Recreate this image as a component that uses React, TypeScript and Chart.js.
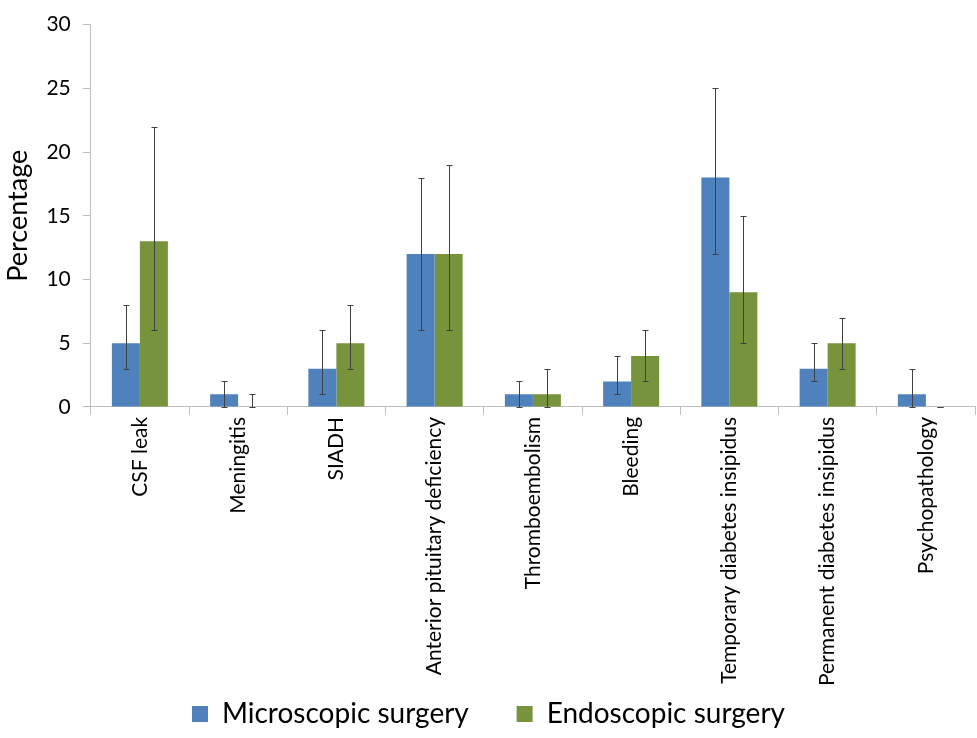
import React, { useEffect, useRef } from "react";
import { Chart, registerables } from "chart.js";

Chart.register(...registerables);

const categories = [
  "CSF leak",
  "Meningitis",
  "SIADH",
  "Anterior pituitary deficiency",
  "Thromboembolism",
  "Bleeding",
  "Temporary diabetes insipidus",
  "Permanent diabetes insipidus",
  "Psychopathology",
];

const microValues = [5, 1, 3, 12, 1, 2, 18, 3, 1];
const microLow = [3, 0, 1, 6, 0, 1, 12, 2, 0];
const microHigh = [8, 2, 6, 18, 2, 4, 25, 5, 3];

const endoValues = [13, 0, 5, 12, 1, 4, 9, 5, 0];
const endoLow = [6, 0, 3, 6, 0, 2, 5, 3, 0];
const endoHigh = [22, 1, 8, 19, 3, 6, 15, 7, 0];

const yTicks = [0, 5, 10, 15, 20, 25, 30];

const FONT = "Lato, 'Open Sans', sans-serif";

const errorBarPlugin = {
  id: "errorBars",
  afterDatasetsDraw(chart: any) {
    const ctx = chart.ctx;
    const yScale = chart.scales.y;
    const ranges = [
      [microLow, microHigh],
      [endoLow, endoHigh],
    ];
    ctx.save();
    ctx.strokeStyle = "#404040";
    ctx.lineWidth = 1;
    chart.data.datasets.forEach((_ds: any, di: number) => {
      const meta = chart.getDatasetMeta(di);
      meta.data.forEach((bar: any, i: number) => {
        const x = Math.round(bar.x) + 0.5;
        const yl = Math.round(yScale.getPixelForValue(ranges[di][0][i])) + 0.5;
        const yh = Math.round(yScale.getPixelForValue(ranges[di][1][i])) + 0.5;
        ctx.beginPath();
        ctx.moveTo(x, yl);
        ctx.lineTo(x, yh);
        ctx.moveTo(x - 3, yl);
        ctx.lineTo(x + 3, yl);
        ctx.moveTo(x - 3, yh);
        ctx.lineTo(x + 3, yh);
        ctx.stroke();
      });
    });
    ctx.restore();
  },
};

export default function App() {
  const ref = useRef<HTMLCanvasElement>(null);
  useEffect(() => {
    if (!ref.current) return;
    const baseGen = Chart.defaults.plugins.legend.labels.generateLabels;
    const chart = new Chart(ref.current, {
      type: "bar",
      data: {
        labels: categories,
        datasets: [
          {
            label: "Microscopic surgery",
            data: microValues,
            backgroundColor: "#4F81BD",
            borderWidth: 0,
          },
          {
            label: "Endoscopic surgery",
            data: endoValues,
            backgroundColor: "#77933C",
            borderWidth: 0,
          },
        ],
      },
      options: {
        animation: false,
        responsive: true,
        maintainAspectRatio: false,
        layout: { padding: { top: 0, right: 2, left: 2, bottom: 0 } },
        datasets: { bar: { categoryPercentage: 0.57, barPercentage: 1.0 } },
        plugins: {
          legend: {
            position: "bottom",
            labels: {
              font: { family: FONT, size: 28 },
              color: "#000",
              boxWidth: 16,
              boxHeight: 16,
              padding: 12,
              generateLabels: (c: any) => {
                const items = baseGen(c);
                if (items.length > 0) items[0].text = items[0].text + "     ";
                return items;
              },
            },
          },
          tooltip: { enabled: false },
        },
        scales: {
          x: {
            grid: {
              display: true,
              drawOnChartArea: false,
              drawTicks: true,
              tickLength: 8,
              color: "#bfbfbf",
            },
            border: { color: "#bfbfbf", width: 1 },
            ticks: {
              autoSkip: false,
              maxRotation: 90,
              minRotation: 90,
              color: "#000",
              font: { family: FONT, size: 21 },
              padding: 2,
            },
          },
          y: {
            min: 0,
            max: 30,
            afterBuildTicks: (axis: any) => {
              axis.ticks = yTicks.map((v) => ({ value: v }));
            },
            grid: {
              display: true,
              drawOnChartArea: false,
              drawTicks: true,
              tickLength: 8,
              color: "#bfbfbf",
            },
            border: { color: "#bfbfbf", width: 1 },
            ticks: {
              color: "#000",
              font: { family: FONT, size: 21 },
              padding: 12,
            },
            title: {
              display: true,
              text: "Percentage",
              color: "#000",
              font: { family: FONT, size: 27 },
              padding: 0,
            },
          },
        },
      },
      plugins: [errorBarPlugin],
    });
    return () => chart.destroy();
  }, []);
  return (
    <div style={{ position: "fixed", left: 0, top: 0, width: 977, height: 738 }}>
      <canvas ref={ref} />
    </div>
  );
}
